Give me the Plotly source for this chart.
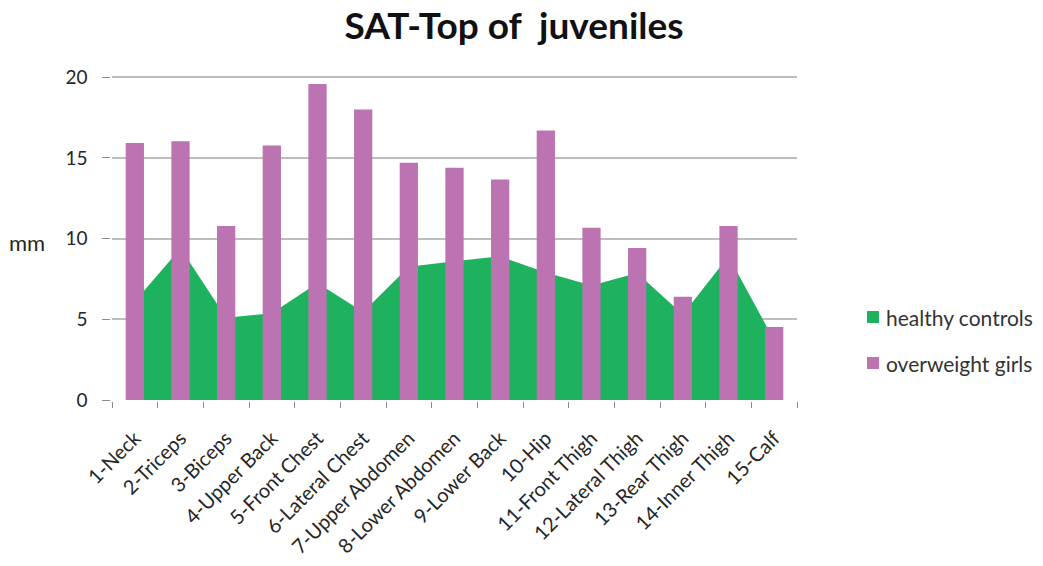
import plotly.graph_objects as go

# Measurement sites (SAT-Top), thickness in mm
sites = [
    "1-Neck", "2-Triceps", "3-Biceps", "4-Upper Back", "5-Front Chest",
    "6-Lateral Chest", "7-Upper Abdomen", "8-Lower Abdomen", "9-Lower Back",
    "10-Hip", "11-Front Thigh", "12-Lateral Thigh", "13-Rear Thigh",
    "14-Inner Thigh", "15-Calf",
]
healthy_controls = [6.1, 9.4, 5.1, 5.37, 7.25, 5.45, 8.25, 8.6, 8.9,
                    7.9, 7.1, 7.87, 5.3, 8.9, 3.7]
overweight_girls = [15.92, 16.04, 10.78, 15.77, 19.58, 18.0, 14.7, 14.39,
                    13.67, 16.7, 10.68, 9.42, 6.39, 10.78, 4.53]
y_ticks = [0, 5, 10, 15, 20]
series_names = ["healthy controls", "overweight girls"]

GREEN = "#1FB25E"
PURPLE = "#BB74B1"
FONT = "Lato, 'Open Sans', sans-serif"
TEXT = "#262626"
AXIS = "#8C8C8C"

W, H = 1043, 566
ML, MR, MT, MB = 112, 246, 74, 166
PW, PH = W - ML - MR, H - MT - MB


def px_x(px):
    return (px - ML) / PW


def px_y(py):
    return (H - MB - py) / PH


fig = go.Figure()

# healthy controls as a filled area behind the bars
fig.add_trace(go.Scatter(
    x=sites, y=healthy_controls, mode="lines", fill="tozeroy",
    line=dict(width=0, color=GREEN), fillcolor=GREEN,
    showlegend=False, zorder=0, hoverinfo="x+y", name=series_names[0],
))
# overweight girls as narrow bars on top
fig.add_trace(go.Bar(
    x=sites, y=overweight_girls, marker=dict(color=PURPLE, line=dict(width=0)),
    width=0.4, showlegend=False, zorder=1, name=series_names[1],
))

# legend: square swatch + label for each series
for i, (name, col) in enumerate(zip(series_names, [GREEN, PURPLE])):
    cy = 317 + i * 46
    fig.add_shape(
        type="rect", xref="paper", yref="paper",
        x0=px_x(867), x1=px_x(879), y0=px_y(cy + 6), y1=px_y(cy - 6),
        fillcolor=col, line=dict(width=0),
    )
    fig.add_annotation(
        text=name, xref="paper", yref="paper", x=px_x(884), y=px_y(cy),
        xanchor="left", yanchor="middle", showarrow=False,
        font=dict(size=21, family=FONT, color="#333333"),
    )

fig.update_layout(
    width=W, height=H,
    margin=dict(l=ML, r=MR, t=MT, b=MB, autoexpand=False),
    paper_bgcolor="white", plot_bgcolor="white",
    font=dict(family=FONT, color=TEXT),
    title=dict(
        text="<b>SAT-Top of\u00a0 juveniles</b>",
        x=514 / W, xanchor="center", y=1 - 26 / H, yanchor="middle",
        font=dict(size=37, family=FONT, color="#111111"),
    ),
    showlegend=False,
)

fig.update_xaxes(
    type="category", tickson="boundaries", ticks="outside", ticklen=6,
    tickcolor=AXIS, showline=True, linecolor=AXIS, linewidth=1.5,
    showgrid=False, tickangle=-45, ticklabelstandoff=17, automargin=False,
    tickfont=dict(size=20, family=FONT, color=TEXT),
    range=[-0.5, len(sites) - 0.5],
)
fig.update_yaxes(
    range=[0, 20.2], tickvals=y_ticks, ticks="outside", ticklen=8,
    tickcolor=AXIS, showline=True, linecolor=AXIS, linewidth=1.5,
    showgrid=True, gridcolor="#BDBDBD", gridwidth=1.5, zeroline=False,
    ticklabelstandoff=11, automargin=False,
    tickfont=dict(size=19, family=FONT, color=TEXT),
)

fig.add_annotation(
    text="mm", xref="paper", yref="paper", x=px_x(27), y=px_y(242),
    xanchor="center", yanchor="middle", showarrow=False,
    font=dict(size=22, family=FONT, color=TEXT),
)

fig.write_html("out.html")
